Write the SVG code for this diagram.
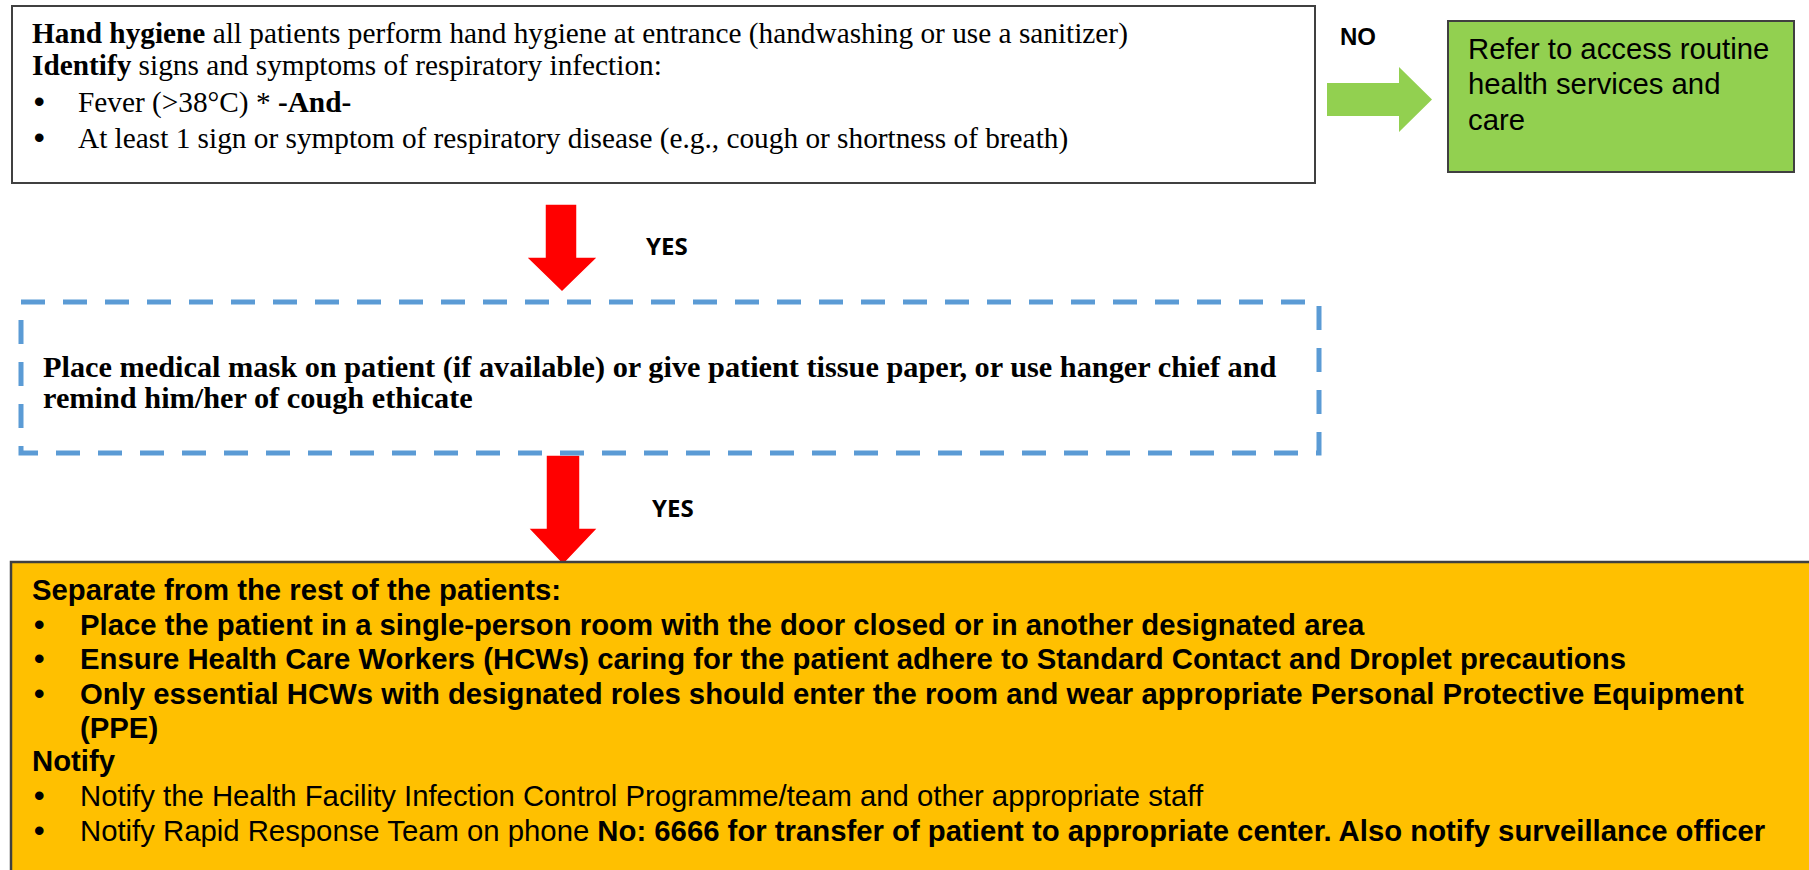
<svg xmlns="http://www.w3.org/2000/svg" width="1809" height="870" viewBox="0 0 1809 870">
<style>
.tnr{font-family:"Liberation Serif","Times New Roman",serif;font-size:29.3px;fill:#000}
.ar{font-family:"Liberation Sans",Arial,sans-serif;font-size:29.3px;fill:#000}
.b{font-weight:bold}
.bul{font-family:"Liberation Sans",Arial,sans-serif;font-size:30px;font-weight:bold;fill:#000}
.lbl{font-family:"Open Sans","Liberation Sans",sans-serif;font-size:24px;font-weight:bold;fill:#000}
.box{stroke:#404040;stroke-width:2.5}
.red{fill:#FF0000;stroke:#FFFFFF;stroke-width:1.5}
</style>
<rect width="1809" height="870" fill="#FFFFFF"/>

<g id="connectors">
  <polygon id="arrow-no" points="1327,83 1399,83 1399,67 1432,99.5 1399,132 1399,116 1327,116" fill="#92D050"/>
  <text class="ar b" x="1340" y="45" style="font-size:24px">NO</text>
  <polygon id="arrow-yes1" class="red" points="545,204 577,204 577,257 598,257 562,292 526,257 545,257"/>
  <text class="lbl" x="646" y="255">YES</text>
  <polygon id="arrow-yes2" class="red" points="546,455 580,455 580,528 598,528 563,565 528,528 546,528"/>
  <text class="lbl" x="652" y="517">YES</text>
</g>

<g id="node-screening">
  <rect class="box" x="12" y="6" width="1303" height="177" fill="#FFFFFF" style="stroke-width:2"/>
  <text class="tnr" x="32" y="43"><tspan class="b">Hand hygiene</tspan> all patients perform hand hygiene at entrance (handwashing or use a sanitizer)</text>
  <text class="tnr" x="32" y="75"><tspan class="b">Identify</tspan> signs and symptoms of respiratory infection:</text>
  <text class="bul" x="34" y="112">•</text>
  <text class="tnr" x="78" y="112">Fever (&gt;38°C) * <tspan class="b">-And-</tspan></text>
  <text class="bul" x="34" y="148">•</text>
  <text class="tnr" x="78" y="148">At least 1 sign or symptom of respiratory disease (e.g., cough or shortness of breath)</text>
</g>

<g id="node-refer">
  <rect class="box" x="1448" y="21" width="346" height="151" fill="#92D050" style="stroke-width:2"/>
  <text class="ar" x="1468" y="59">Refer to access routine</text>
  <text class="ar" x="1468" y="94">health services and</text>
  <text class="ar" x="1468" y="130">care</text>
</g>

<g id="node-mask">
  <rect x="21" y="302" width="1298" height="151" fill="none" stroke="#5B9BD5" stroke-width="5" stroke-dasharray="24 18"/>
  <text class="tnr b" x="43" y="377" style="font-size:30.3px">Place medical mask on patient (if available) or give patient tissue paper, or use hanger chief and</text>
  <text class="tnr b" x="43" y="408" style="font-size:30.3px">remind him/her of cough ethicate</text>
</g>

<g id="node-separate">
  <rect class="box" x="11" y="562" width="1840" height="340" fill="#FFC000"/>
  <text class="ar b" x="32" y="600">Separate from the rest of the patients:</text>
  <text class="bul" x="34" y="635">•</text>
  <text class="ar b" x="80" y="635">Place the patient in a single-person room with the door closed or in another designated area</text>
  <text class="bul" x="34" y="669">•</text>
  <text class="ar b" x="80" y="669">Ensure Health Care Workers (HCWs) caring for the patient adhere to Standard Contact and Droplet precautions</text>
  <text class="bul" x="34" y="704">•</text>
  <text class="ar b" x="80" y="704">Only essential HCWs with designated roles should enter the room and wear appropriate Personal Protective Equipment</text>
  <text class="ar b" x="80" y="738">(PPE)</text>
  <text class="ar b" x="32" y="771">Notify</text>
  <text class="bul" x="34" y="806">•</text>
  <text class="ar" x="80" y="806">Notify the Health Facility Infection Control Programme/team and other appropriate staff</text>
  <text class="bul" x="34" y="841">•</text>
  <text class="ar" x="80" y="841">Notify Rapid Response Team on phone <tspan class="b">No: 6666 for transfer of patient to appropriate center. Also notify surveillance officer</tspan></text>
</g>
</svg>
